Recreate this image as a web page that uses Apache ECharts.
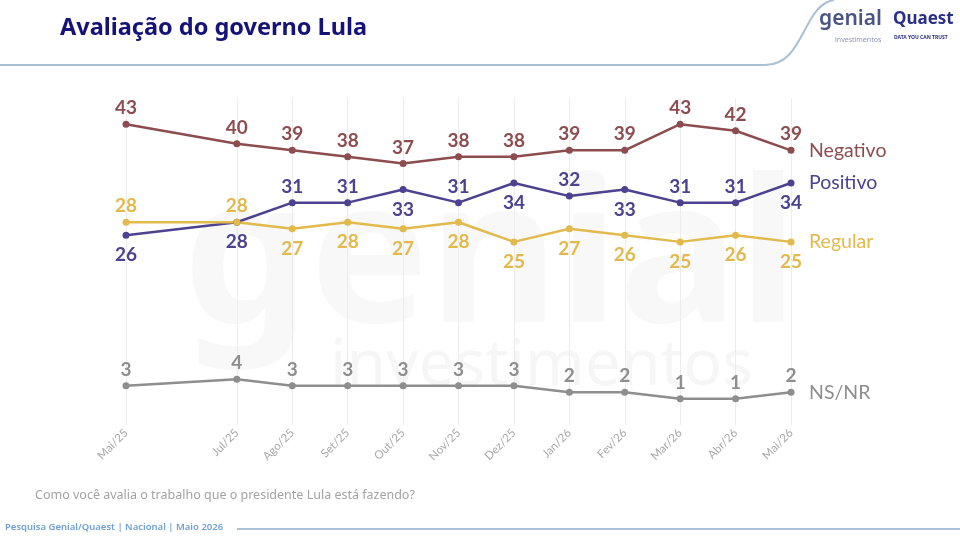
<!DOCTYPE html>
<html>
<head>
<meta charset="utf-8">
<script src="https://cdn.jsdelivr.net/npm/echarts@6/dist/echarts.min.js"></script>
<style>
  html, body { margin: 0; padding: 0; background: #fff; }
  #main { width: 960px; height: 538px; }
</style>
</head>
<body>
<div id="main"></div>
<script>
// meses das rodadas (jun/25 não teve pesquisa)
var meses = ['Mai/25', 'Jul/25', 'Ago/25', 'Set/25', 'Out/25', 'Nov/25', 'Dez/25', 'Jan/26', 'Fev/26', 'Mar/26', 'Abr/26', 'Mai/26'];
var mesIdx = [0, 2, 3, 4, 5, 6, 7, 8, 9, 10, 11, 12];

var negativo = [43, 40, 39, 38, 37, 38, 38, 39, 39, 43, 42, 39];
var positivo = [26, 28, 31, 31, 33, 31, 34, 32, 33, 31, 31, 34];
var regular  = [28, 28, 27, 28, 27, 28, 25, 27, 26, 25, 26, 25];
var nsnr     = [3, 4, 3, 3, 3, 3, 3, 2, 2, 1, 1, 2];

// rótulos de positivo que ficam abaixo do ponto / de regular que ficam acima
var positivoAbaixo = [0, 1, 4, 6, 8, 11];
var regularAcima = [0, 1];

var fonte = 'Lato, "Noto Sans", sans-serif';

function pares(valores, lado) {
    return valores.map(function (v, i) {
        var item = { value: [mesIdx[i], v] };
        if (lado && lado(i) === 'bottom') item.label = { position: 'bottom', distance: 7 };
        return item;
    });
}

function serie(nome, cor, valores, lado) {
    return {
        name: nome,
        type: 'line',
        data: pares(valores, lado),
        symbol: 'circle',
        symbolSize: 7,
        lineStyle: { width: 2.5, color: cor },
        itemStyle: { color: cor },
        label: {
            show: true,
            position: 'top',
            distance: 3,
            color: cor,
            fontSize: 19,
            fontWeight: 'bold',
            fontFamily: fonte,
            formatter: function (p) { return p.value[1]; }
        },
        endLabel: {
            show: true,
            formatter: nome,
            color: cor,
            fontSize: 19.5,
            fontFamily: fonte,
            distance: 18
        },
        emphasis: { disabled: true },
        z: 3
    };
}

var myChart = echarts.init(document.getElementById('main'));

var option = {
    backgroundColor: '#fff',
    animation: false,
    grid: { left: 126, right: 169, top: 98, bottom: 113 },
    xAxis: {
        type: 'value',
        min: 0,
        max: 12,
        axisLine: { show: false },
        axisTick: { show: false, customValues: mesIdx },
        splitLine: { show: true, lineStyle: { color: '#ececec', width: 1 } },
        axisLabel: {
            customValues: mesIdx,
            rotate: 45,
            margin: 6,
            color: '#a8a8a8',
            fontSize: 11.5,
            fontFamily: fonte,
            formatter: function (v) { return meses[mesIdx.indexOf(v)]; }
        }
    },
    yAxis: {
        type: 'value',
        min: -3,
        max: 47,
        show: false
    },
    graphic: [
        {
            type: 'text', left: 60, top: 16,
            style: { text: 'Avaliação do governo Lula', fill: '#15127a', font: 'bold 23.5px "Noto Sans", sans-serif' }
        },
        {
            type: 'line', silent: true,
            shape: { x1: 0, y1: 65, x2: 765, y2: 65 },
            style: { stroke: '#a9c0d6', lineWidth: 2 }
        },
        {
            type: 'bezierCurve', silent: true,
            shape: { x1: 765, y1: 65, cpx1: 805, cpy1: 65, cpx2: 802, cpy2: 5, x2: 834, y2: 0 },
            style: { fill: null, stroke: '#a9c0d6', lineWidth: 2 }
        },
        {
            type: 'text', left: 819, top: 9,
            style: { text: 'genial', fill: '#4b5585', font: '600 21px "Noto Sans", sans-serif' }
        },
        {
            type: 'text', left: 835, top: 36,
            style: { text: 'investimentos', fill: '#8c95b8', font: '7px "Noto Sans", sans-serif' }
        },
        {
            type: 'text', left: 893, top: 11,
            style: { text: 'Quaest', fill: '#2b2f86', font: 'bold 17px "Noto Sans", sans-serif' }
        },
        {
            type: 'text', left: 894, top: 35,
            style: { text: 'DATA YOU CAN TRUST', fill: '#2b2f86', font: 'bold 5px "Noto Sans", sans-serif' }
        },
        {
            type: 'text', left: 183, top: 165, z: -10, silent: true,
            style: { text: 'genial', fill: '#f8f8f8', font: 'bold 200px "Noto Sans", sans-serif' }
        },
        {
            type: 'text', left: 330, top: 335, z: -10, silent: true,
            style: { text: 'investimentos', fill: '#f6f6f6', font: '64px "Noto Sans", sans-serif' }
        },
        {
            type: 'text', left: 35, top: 489,
            style: { text: 'Como você avalia o trabalho que o presidente Lula está fazendo?', fill: '#a3a3a3', font: '12.5px "Noto Sans", sans-serif' }
        },
        {
            type: 'text', left: 5, top: 522,
            style: { text: 'Pesquisa Genial/Quaest | Nacional | Maio 2026', fill: '#6f9fcf', font: '600 9.5px "Noto Sans", sans-serif' }
        },
        {
            type: 'line', silent: true,
            shape: { x1: 237, y1: 529, x2: 960, y2: 529 },
            style: { stroke: '#a9c3dc', lineWidth: 2 }
        }
    ],
    series: [
        serie('Negativo', '#8d4c4f', negativo),
        serie('Positivo', '#4c4290', positivo, function (i) {
            return positivoAbaixo.indexOf(i) >= 0 ? 'bottom' : 'top';
        }),
        serie('Regular', '#e2b94c', regular, function (i) {
            return regularAcima.indexOf(i) >= 0 ? 'top' : 'bottom';
        }),
        serie('NS/NR', '#8e8e8e', nsnr)
    ]
};

myChart.setOption(option);
</script>
</body>
</html>
